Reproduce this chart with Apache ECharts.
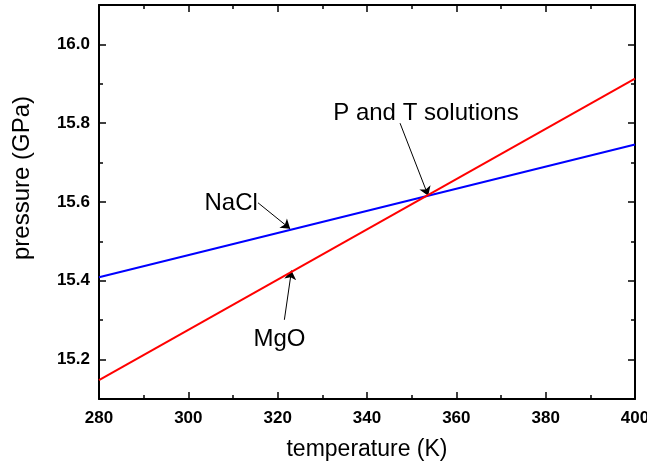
<!DOCTYPE html>
<html>
<head>
<meta charset="utf-8">
<script src="https://cdn.jsdelivr.net/npm/echarts@6/dist/echarts.min.js"></script>
<style>html,body{margin:0;padding:0;background:#fff;overflow:hidden;}#chart{width:647px;height:470px;}</style>
</head>
<body>
<div id="chart"></div>
<script>
// Data
const temperature = [280, 400];
const mgoPressure = [15.148, 15.913];
const naclPressure = [15.409, 15.746];
const labelTexts = ['P and T solutions', 'NaCl', 'MgO'];
const labelT = [353.2, 309.6, 320.4];
const labelP = [15.824, 15.597, 15.251];
const arrowStartT = [347.4, 315.6, 321.5];
const arrowStartP = [15.80, 15.598, 15.301];
const arrowEndT = [353.7, 322.8, 323.1];
const arrowEndP = [15.616, 15.532, 15.426];
const xMin = 280, xMax = 400, xStep = 20;
const yMin = 15.1, yMax = 16.1;

const FONT = "'Liberation Sans', Arial, Helvetica, sans-serif";
const chart = echarts.init(document.getElementById('chart'), null, {renderer: 'canvas', width: 647, height: 470});

const axisLine = {show: true, onZero: false, lineStyle: {color: '#000', width: 2}};
const axisTick = {show: true, inside: true, length: 7, lineStyle: {color: '#000', width: 1.5}};
const minorTick = {show: true, splitNumber: 2, length: 4, lineStyle: {color: '#000', width: 1.5}};
const tickLabel = {color: '#000', fontFamily: FONT, fontWeight: 'bold', fontSize: 17};

const option = {
  animation: false,
  backgroundColor: '#fff',
  grid: {left: 99, right: 12, top: 5, bottom: 71, containLabel: false, outerBoundsMode: 'none'},
  xAxis: [
    {type: 'value', min: xMin, max: xMax, interval: xStep, position: 'bottom',
     axisLine, axisTick, minorTick, splitLine: {show: false},
     axisLabel: Object.assign({margin: 11, hideOverlap: false}, tickLabel),
     name: 'temperature (K)', nameLocation: 'middle', nameGap: 39,
     nameTextStyle: {color: '#000', fontFamily: FONT, fontSize: 23}},
    {type: 'value', min: xMin, max: xMax, interval: xStep, position: 'top',
     axisLine, axisTick, minorTick, splitLine: {show: false}, axisLabel: {show: false}}
  ],
  yAxis: [
    {type: 'value', min: yMin, max: yMax, splitNumber: 5, position: 'left',
     axisLine, axisTick, minorTick, splitLine: {show: false},
     axisLabel: Object.assign({margin: 9, showMinLabel: false, showMaxLabel: false,
       formatter: v => v.toFixed(1)}, tickLabel),
     name: 'pressure (GPa)', nameLocation: 'middle', nameGap: 65,
     nameTextStyle: {color: '#000', fontFamily: FONT, fontSize: 24, padding: [0, 0, 0, 48]}},
    {type: 'value', min: yMin, max: yMax, splitNumber: 5, position: 'right',
     axisLine, axisTick, minorTick, splitLine: {show: false}, axisLabel: {show: false}}
  ],
  series: [
    {name: 'NaCl', type: 'line', xAxisIndex: 0, yAxisIndex: 0, symbol: 'none',
     lineStyle: {color: '#0000ff', width: 2}, itemStyle: {color: '#0000ff'},
     data: temperature.map((t, i) => [t, naclPressure[i]])},
    {name: 'MgO', type: 'line', xAxisIndex: 0, yAxisIndex: 0, symbol: 'none',
     lineStyle: {color: '#ff0000', width: 2}, itemStyle: {color: '#ff0000'},
     data: temperature.map((t, i) => [t, mgoPressure[i]])},
    {name: 'arrows', type: 'lines', coordinateSystem: 'cartesian2d', xAxisIndex: 0, yAxisIndex: 0,
     silent: true, symbol: ['none', 'arrow'], symbolSize: 9,
     lineStyle: {color: '#000', width: 1, opacity: 1},
     data: arrowStartT.map((t, i) => ({coords: [[t, arrowStartP[i]], [arrowEndT[i], arrowEndP[i]]]}))},
    {name: 'labels', type: 'scatter', xAxisIndex: 0, yAxisIndex: 0, silent: true,
     symbolSize: 2, itemStyle: {color: 'rgba(255,255,255,0)'},
     label: {show: true, position: 'inside', formatter: '{b}', color: '#000', opacity: 1,
       textBorderWidth: 0, textShadowBlur: 0, fontFamily: FONT, fontSize: 24},
     data: labelTexts.map((s, i) => ({name: s, value: [labelT[i], labelP[i]]}))}
  ]
};
chart.setOption(option);
</script>
</body>
</html>
